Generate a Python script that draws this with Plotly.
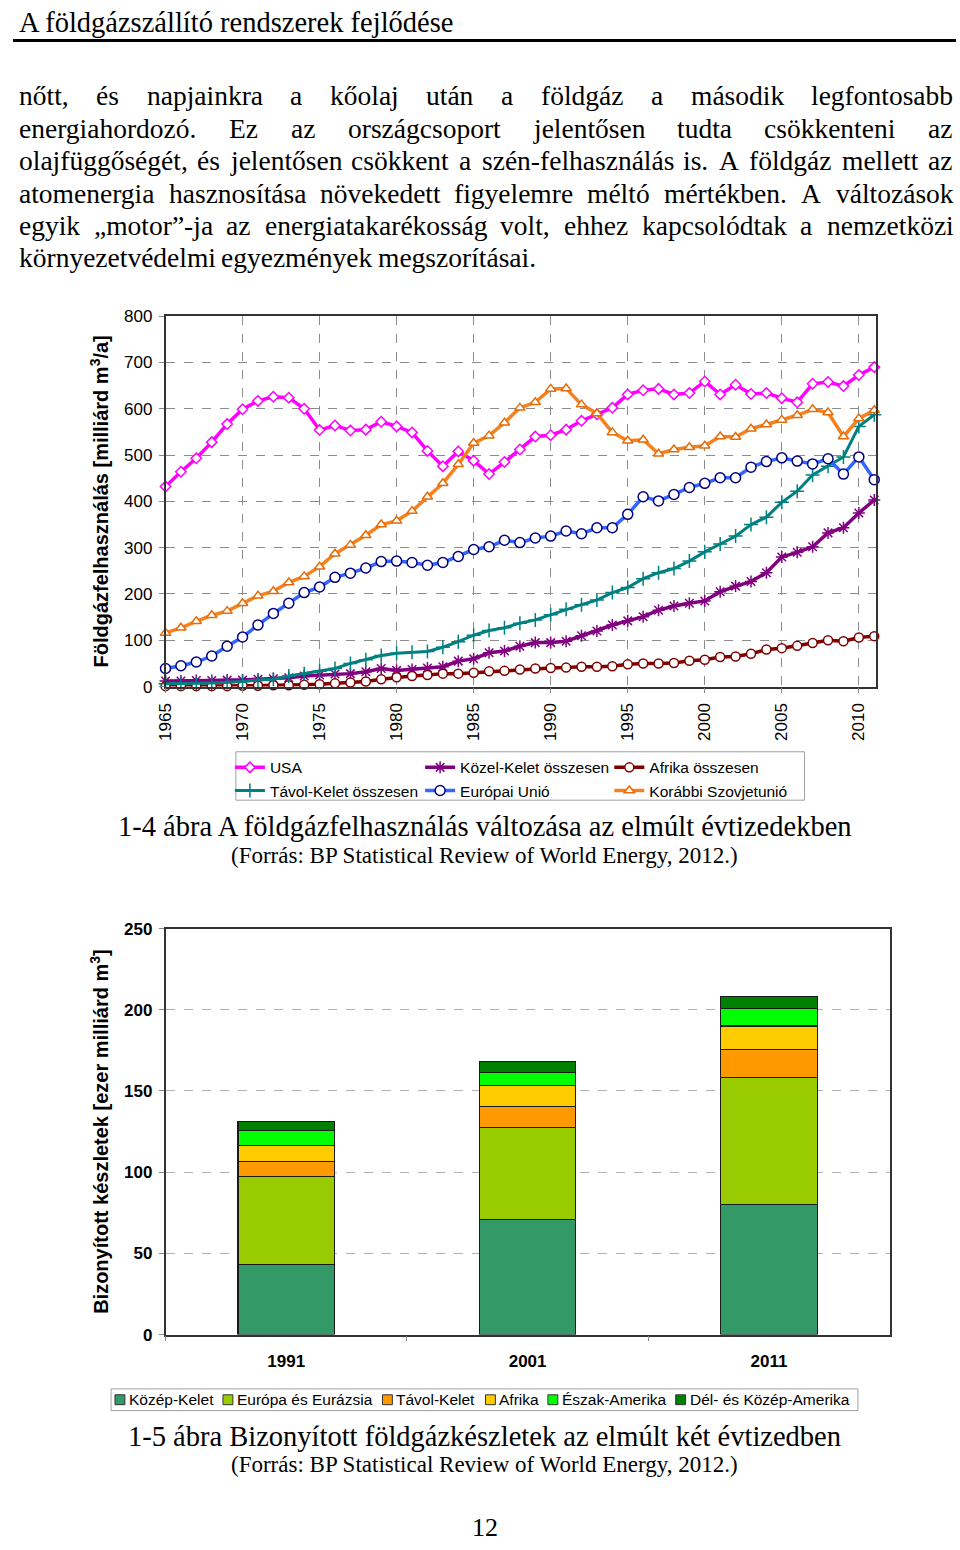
import plotly.graph_objects as go

W, H = 960, 1550

# ---------------- data: chart 1-4 (natural gas consumption, bcm/a) ----------------
years = list(range(1965, 2012))
year_ticks = list(range(1965, 2011, 5))

usa = [432, 464, 493, 528, 567, 599, 617, 626, 624, 600,
       554, 564, 553, 555, 572, 562, 549, 509, 476, 508,
       488, 459, 485, 512, 540, 543, 555, 574, 588, 602,
       631, 640, 643, 631, 634, 659, 631, 652, 632, 634,
       623, 614, 654, 658, 649, 673, 690]
kozel_kelet = [12, 12, 13, 13, 14, 14, 16, 17, 19, 23,
               25, 27, 28, 32, 39, 35, 37, 40, 43, 55,
               60, 73, 77, 87, 95, 95, 98, 110, 120, 133,
               142, 151, 165, 174, 180, 185, 205, 217, 227, 246,
               280, 290, 302, 332, 343, 375, 403]
afrika = [1, 1, 1, 1, 1, 2, 2, 3, 3, 4,
          5, 7, 9, 11, 16, 20, 23, 25, 28, 28,
          30, 33, 34, 37, 39, 40, 41, 43, 43, 44,
          48, 50, 50, 51, 56, 58, 64, 65, 71, 80,
          83, 88, 94, 100, 98, 106, 109]
tavol_kelet = [6, 6, 7, 8, 9, 11, 14, 16, 23, 28,
               33, 39, 50, 58, 67, 72, 74, 76, 85, 97,
               111, 121, 127, 137, 144, 155, 167, 177, 187, 203,
               214, 233, 246, 255, 271, 291, 308, 325, 350, 366,
               398, 422, 457, 476, 496, 562, 587]
eu = [39, 45, 53, 66, 87, 107, 133, 158, 180, 203,
      215, 236, 245, 256, 270, 271, 268, 262, 268, 281,
      296, 302, 316, 311, 321, 325, 336, 330, 343, 343,
      372, 410, 401, 415, 430, 439, 451, 451, 474, 486,
      494, 487, 481, 492, 459, 496, 447]
szovjet = [116, 127, 141, 154, 163, 180, 196, 206, 225, 238,
           259, 287, 306, 327, 350, 358, 379, 410, 439, 480,
           526, 542, 570, 602, 614, 643, 644, 609, 590, 549,
           531, 533, 503, 512, 517, 520, 540, 539, 557, 566,
           576, 586, 599, 592, 540, 579, 597]

# ---------------- data: chart 1-5 (proven reserves, trillion m3) ----------------
bar_years = ["1991", "2001", "2011"]
kozep_kelet_r = [43.0, 70.9, 80.1]
europa_r = [54.3, 56.8, 78.4]
tavol_kelet_r = [9.5, 12.8, 16.9]
afrika_r = [9.8, 13.0, 14.6]
eszak_amerika_r = [9.1, 7.7, 10.7]
del_amerika_r = [5.5, 7.1, 7.5]

SERIF = "Liberation Serif, Times New Roman, serif"
SANS = "Liberation Sans, Arial, sans-serif"


def px(x):
    return x / W


def py(y):
    return 1 - y / H


fig = go.Figure()

# ---------------- line chart ----------------
line_series = [
    ("USA", usa, "#FF00FF", dict(symbol="diamond", size=8, color="white",
                                  line=dict(color="#FF00FF", width=1.5)), 3.5, "legend"),
    ("Közel-Kelet összesen", kozel_kelet, "#800080",
     dict(symbol="asterisk-open", size=10, line=dict(color="#800080", width=1.5)), 3.5, "legend2"),
    ("Afrika összesen", afrika, "#800000", dict(symbol="circle", size=9, color="white",
                                                 line=dict(color="#800000", width=1.5)), 3.5, "legend3"),
    ("Távol-Kelet összesen", tavol_kelet, "#008080",
     dict(symbol="cross-thin-open", size=10, line=dict(color="#008080", width=1.5)), 3, "legend"),
    ("Európai Unió", eu, "#3366FF", dict(symbol="circle", size=10, color="white",
                                          line=dict(color="#000080", width=1.5)), 3.5, "legend2"),
    ("Korábbi Szovjetunió", szovjet, "#F58220", dict(symbol="triangle-up", size=9, color="white",
                                                      line=dict(color="#E46C0A", width=1.5)), 3.5, "legend3"),
]
for name, vals, col, mk, lw, lg in line_series:
    fig.add_trace(go.Scatter(
        x=years, y=vals, name=name, mode="lines+markers",
        line=dict(color=col, width=lw), marker=mk,
        xaxis="x", yaxis="y", cliponaxis=False, legend=lg,
    ))

# ---------------- bar chart ----------------
bar_series = [
    ("Közép-Kelet", kozep_kelet_r, "#339966"),
    ("Európa és Eurázsia", europa_r, "#99CC00"),
    ("Távol-Kelet", tavol_kelet_r, "#FF9900"),
    ("Afrika", afrika_r, "#FFCC00"),
    ("Észak-Amerika", eszak_amerika_r, "#00FF00"),
    ("Dél- és Közép-Amerika", del_amerika_r, "#008000"),
]
for name, vals, col in bar_series:
    fig.add_trace(go.Bar(
        x=bar_years, y=vals, name=name, marker=dict(color=col, line=dict(color="#1a1a1a", width=1.2)),
        xaxis="x2", yaxis="y2", showlegend=False,
    ))

axis_common = dict(showline=True, mirror=True, linecolor="#333333", linewidth=1.5,
                   zeroline=False, ticks="outside", ticklen=5, tickcolor="#888888")

LEG_FONT = dict(family=SANS, size=15.5, color="black")


def leg(xpx):
    return dict(orientation="v", x=px(xpx), y=py(751), xanchor="left", yanchor="top",
                bgcolor="rgba(0,0,0,0)", borderwidth=0, font=LEG_FONT,
                traceorder="normal", tracegroupgap=0)


fig.update_layout(
    width=W, height=H, margin=dict(l=0, r=0, t=0, b=0),
    paper_bgcolor="white", plot_bgcolor="white",
    barmode="stack", bargap=0.6,
    xaxis=dict(domain=[px(158), px(875)], range=[1965, 2011.1], tickvals=year_ticks,
               tickangle=-90, tickfont=dict(family=SANS, size=17, color="black"),
               showgrid=True, gridcolor="#8c8c8c", griddash="dash", gridwidth=1,
               anchor="y", ticklabelstandoff=3, **axis_common),
    yaxis=dict(domain=[py(686), py(311)], range=[0, 800], dtick=100,
               tickfont=dict(family=SANS, size=17, color="black"),
               showgrid=True, gridcolor="#8c8c8c", griddash="dash", gridwidth=1,
               anchor="x", ticklabelstandoff=3,
               title=dict(text="Földgázfelhasználás [milliárd m<sup>3</sup>/a]",
                          font=dict(family=SANS, size=20, color="black", weight="bold"),
                          standoff=10),
               **axis_common),
    xaxis2=dict(domain=[px(158), px(889)], type="category", range=[-0.5, 2.5],
                tickfont=dict(family=SANS, size=17, color="black", weight="bold"),
                showgrid=False, tickson="boundaries", anchor="y2", ticklabelstandoff=10,
                **axis_common),
    yaxis2=dict(domain=[py(1342), py(931)], range=[0, 250], dtick=50,
                tickfont=dict(family=SANS, size=17, color="black", weight="bold"),
                showgrid=True, gridcolor="#b0b0b0", griddash="dash", gridwidth=1.2,
                anchor="x2", ticklabelstandoff=3,
                title=dict(text="Bizonyított készletek [ezer milliárd m<sup>3</sup>]",
                           font=dict(family=SANS, size=20, color="black", weight="bold"),
                           standoff=10),
                **axis_common),
    legend=leg(223), legend2=leg(415), legend3=leg(606),
)

shapes = []
annotations = []
# frame of the line-chart legend
shapes.append(dict(type="rect", xref="paper", yref="paper", x0=px(229), x1=px(803),
                   y0=py(801), y1=py(752), line=dict(color="#a0a0a0", width=1),
                   fillcolor="rgba(0,0,0,0)"))

# ---------------- manual legend for bar chart ----------------
shapes.append(dict(type="rect", xref="paper", yref="paper", x0=px(103), x1=px(857),
                   y0=py(1419), y1=py(1397), line=dict(color="#a0a0a0", width=1), fillcolor="white"))
leg_text_x = [120, 229, 390, 494, 557, 686]
for (name, vals, col), tx in zip(bar_series, leg_text_x):
    shapes.append(dict(type="rect", xref="paper", yref="paper", x0=px(tx - 13), x1=px(tx - 3),
                       y0=py(1413), y1=py(1403), fillcolor=col, line=dict(color="#333333", width=1)))
    annotations.append(dict(text=name, x=px(tx - 1), y=py(1408), xref="paper", yref="paper",
                            xanchor="left", yanchor="middle", showarrow=False,
                            font=dict(family=SANS, size=15.5, color="black")))

# ---------------- page text ----------------
annotations.append(dict(text="A földgázszállító rendszerek fejlődése", x=px(8), y=py(14),
                        xref="paper", yref="paper", xanchor="left", yanchor="middle",
                        showarrow=False, font=dict(family=SERIF, size=28.5, color="black")))
shapes.append(dict(type="line", xref="paper", yref="paper", x0=px(4), x1=px(956),
                   y0=py(32), y1=py(32), line=dict(color="black", width=3)))

TIMES = dict(a=444, b=500, c=444, d=500, e=444, f=333, g=500, h=500, i=278, j=278, k=500, l=278,
             m=778, n=500, o=500, p=500, q=500, r=333, s=389, t=278, u=500, v=500, w=722, x=500,
             y=500, z=444, A=722, E=611)
TIMES.update({",": 250, ".": 250, "-": 333, "„": 444, "”": 444, " ": 250})
ACC = {"á": "a", "é": "e", "í": "i", "ó": "o", "ö": "o", "ő": "o", "ú": "u", "ü": "u", "ű": "u"}


def text_w(word, size):
    return sum(TIMES.get(ACC.get(ch, ch), 500) for ch in word) * size / 1000.0


para_lines = [
    "nőtt, és napjainkra a kőolaj után a földgáz a második legfontosabb",
    "energiahordozó. Ez az országcsoport jelentősen tudta csökkenteni az",
    "olajfüggőségét, és jelentősen csökkent a szén-felhasználás is. A földgáz mellett az",
    "atomenergia hasznosítása növekedett figyelemre méltó mértékben. A változások",
    "egyik „motor”-ja az energiatakarékosság volt, ehhez kapcsolódtak a nemzetközi",
    "környezetvédelmi egyezmények megszorításai.",
]
PSIZE = 27.5
left, right = 8, 950
for li, line in enumerate(para_lines):
    yc = 88 + li * 32.8
    words = line.split(" ")
    widths = [text_w(wd, PSIZE) for wd in words]
    if li < len(para_lines) - 1:
        gap = (right - left - sum(widths)) / (len(words) - 1)
    else:
        gap = 250 * PSIZE / 1000.0
    xc = left
    for wd, ww in zip(words, widths):
        annotations.append(dict(text=wd, x=px(xc), y=py(yc), xref="paper", yref="paper",
                                xanchor="left", yanchor="middle", showarrow=False,
                                font=dict(family=SERIF, size=PSIZE, color="black")))
        xc += ww + gap

captions = [
    ("1-4 ábra A földgázfelhasználás változása az elmúlt évtizedekben", 828, 28.5),
    ("(Forrás: BP Statistical Review of World Energy, 2012.)", 857, 23),
    ("1-5 ábra Bizonyított földgázkészletek az elmúlt két évtizedben", 1445, 28.5),
    ("(Forrás: BP Statistical Review of World Energy, 2012.)", 1474, 23),
    ("12", 1537, 26),
]
for txt, yc, sz in captions:
    annotations.append(dict(text=txt, x=0.5, y=py(yc), xref="paper", yref="paper",
                            xanchor="center", yanchor="middle", showarrow=False,
                            font=dict(family=SERIF, size=sz, color="black")))

fig.update_layout(shapes=shapes, annotations=annotations)
fig.write_html("out.html", config={"displayModeBar": False},
               post_script="document.body.style.margin='0';document.body.style.overflow='hidden';")
